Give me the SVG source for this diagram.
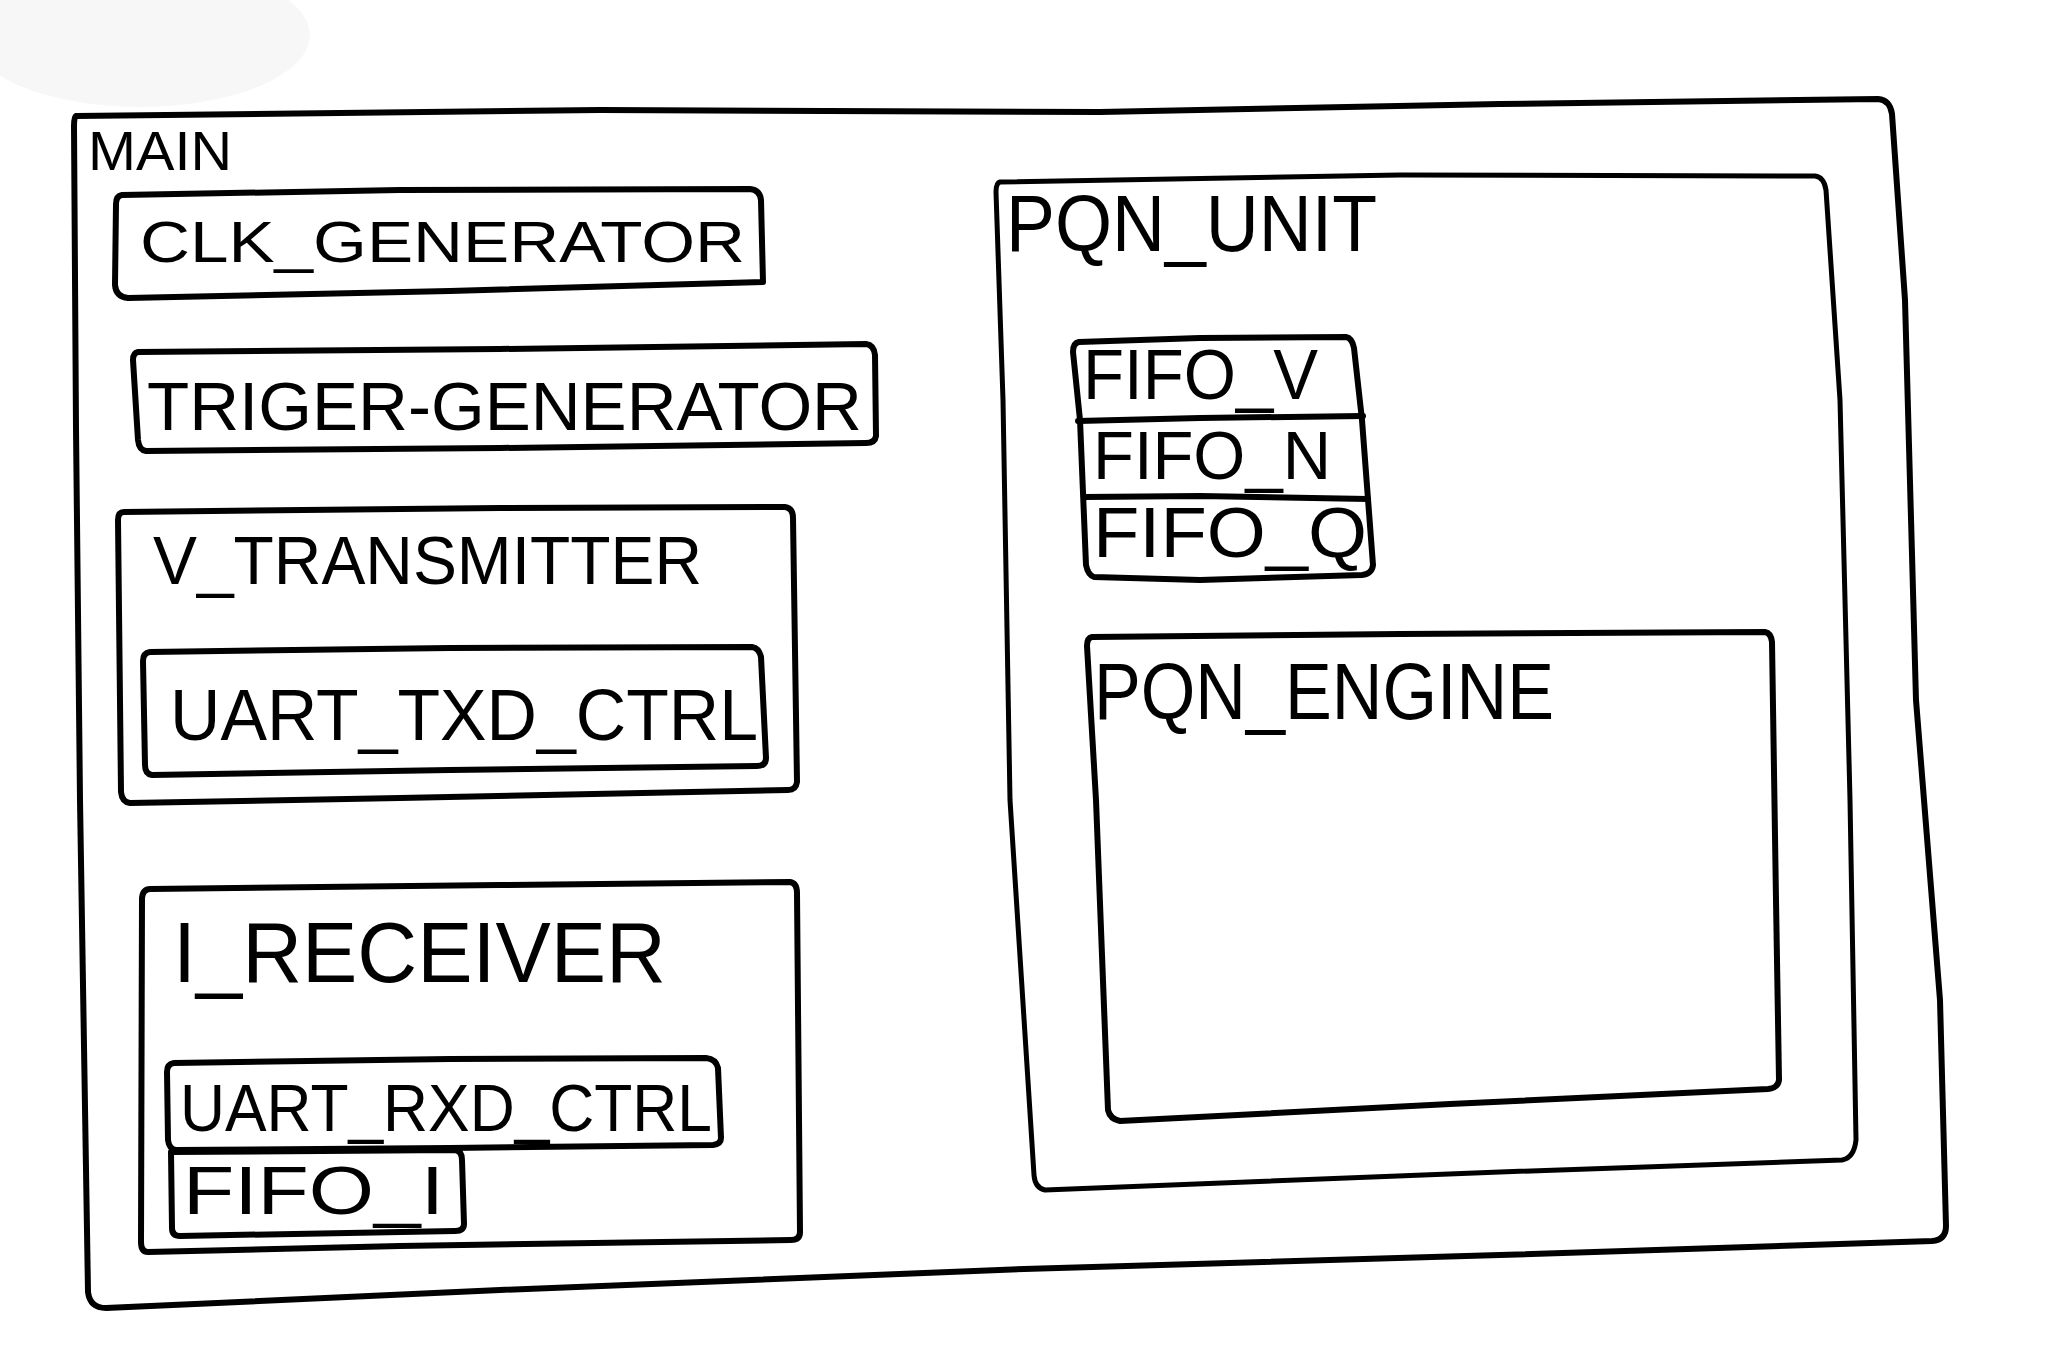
<svg xmlns="http://www.w3.org/2000/svg" width="2048" height="1348" viewBox="0 0 2048 1348">
<style>
.box{fill:none;stroke:#000;stroke-width:6;stroke-linejoin:round;stroke-linecap:round}
.thin{stroke-width:5}
.lbl{font-family:"Liberation Sans","DejaVu Sans",sans-serif;fill:#000;font-weight:normal}
</style>
<rect x="0" y="0" width="2048" height="1348" fill="#fff"/>
<ellipse cx="140" cy="35" rx="170" ry="72" fill="#f7f7f7"/>
<g id="main">
<path class="box" d="M76,116 L600,110 L1100,112 L1500,104 L1878,99 Q1890,100 1892,114 L1905,300 L1916,700 L1940,1000 L1946,1226 Q1946,1240 1932,1241 L1500,1255 L1024,1269 L500,1290 L106,1308 Q90,1308 88,1292 L80,800 L76,428 L74,126 Q74,117 76,116 Z"/>
<text class="lbl" x="88" y="170" font-size="56" textLength="144" lengthAdjust="spacingAndGlyphs">MAIN</text>
</g>
<g id="clk_generator">
<path class="box" d="M122,195 L400,190 L750,189 Q760,190 761,200 L763,282 L450,291 L128,298 Q116,297 115,285 L116,204 Q116,196 122,195 Z"/>
<text class="lbl" x="140" y="262" font-size="58" textLength="605" lengthAdjust="spacingAndGlyphs">CLK_GENERATOR</text>
</g>
<g id="triger_generator">
<path class="box" d="M138,352 L500,349 L866,344 Q874,345 875,355 L876,436 Q875,443 866,443 L500,448 L146,451 Q139,450 138,440 L133,360 Q133,353 138,352 Z"/>
<text class="lbl" x="147" y="430" font-size="68" textLength="715" lengthAdjust="spacingAndGlyphs">TRIGER-GENERATOR</text>
</g>
<g id="v_transmitter">
<path class="box" d="M124,512 L500,508 L785,507 Q793,508 793,518 L797,782 Q796,790 788,790 L400,798 L130,803 Q122,802 121,792 L118,520 Q118,512 124,512 Z"/>
<text class="lbl" x="153" y="584" font-size="68" textLength="549" lengthAdjust="spacingAndGlyphs">V_TRANSMITTER</text>
<g id="uart_txd_ctrl">
<path class="box" d="M150,652 L450,648 L752,647 Q759,648 761,657 L766,758 Q766,766 757,766 L450,770 L152,775 Q145,774 145,765 L143,661 Q143,653 150,652 Z"/>
<text class="lbl" x="170" y="740" font-size="72" textLength="588" lengthAdjust="spacingAndGlyphs">UART_TXD_CTRL</text>
</g>
</g>
<g id="i_receiver">
<path class="box" d="M150,889 L500,885 L790,882 Q797,883 797,893 L800,1232 Q800,1240 791,1240 L400,1246 L148,1252 Q141,1252 141,1242 L142,898 Q143,889 150,889 Z"/>
<text class="lbl" x="173" y="982" font-size="86" textLength="493" lengthAdjust="spacingAndGlyphs">I_RECEIVER</text>
<g id="uart_rxd_ctrl">
<path class="box" d="M174,1063 L450,1059 L706,1058 Q716,1059 718,1068 L721,1138 Q721,1144 713,1145 L450,1148 L176,1150 Q169,1149 168,1140 L167,1072 Q167,1064 174,1063 Z"/>
<text class="lbl" x="180" y="1131" font-size="66" textLength="532" lengthAdjust="spacingAndGlyphs">UART_RXD_CTRL</text>
</g>
<g id="fifo_i">
<path class="box" d="M171,1152 L455,1150 Q462,1151 462,1160 L464,1224 Q464,1231 455,1231 L180,1236 Q172,1236 172,1228 L171,1152 Z"/>
<text class="lbl" x="183" y="1214" font-size="68" textLength="261" lengthAdjust="spacingAndGlyphs">FIFO_I</text>
</g>
</g>
<g id="pqn_unit">
<path class="box thin" d="M1000,182 L1400,175 L1815,176 Q1824,177 1826,190 L1840,400 L1850,800 L1856,1140 Q1854,1158 1842,1160 L1500,1172 L1045,1190 Q1035,1188 1034,1175 L1010,800 L1003,400 L996,192 Q996,183 1000,182 Z"/>
<text class="lbl" x="1006" y="251" font-size="80" textLength="371" lengthAdjust="spacingAndGlyphs">PQN_UNIT</text>
<g id="fifo_stack">
<path class="box" d="M1079,342 L1200,338 L1346,337 Q1352,338 1354,348 L1362,420 L1373,565 Q1372,574 1362,575 L1200,580 L1094,577 Q1088,575 1086,565 L1080,420 L1073,352 Q1073,343 1079,342 Z"/>
<path class="box" d="M1078,421 L1200,418 L1363,416"/>
<path class="box" d="M1084,497 L1200,496 L1368,499"/>
<text class="lbl" x="1083" y="399" font-size="70" textLength="235" lengthAdjust="spacingAndGlyphs">FIFO_V</text>
<text class="lbl" x="1093" y="479" font-size="68" textLength="238" lengthAdjust="spacingAndGlyphs">FIFO_N</text>
<text class="lbl" x="1093" y="557" font-size="70" textLength="274" lengthAdjust="spacingAndGlyphs">FIFO_Q</text>
</g>
<g id="pqn_engine">
<path class="box" d="M1092,637 L1400,634 L1765,632 Q1771,633 1772,642 L1776,900 L1779,1080 Q1778,1088 1768,1089 L1450,1104 L1120,1121 Q1110,1119 1108,1110 L1096,800 L1087,646 Q1087,638 1092,637 Z"/>
<text class="lbl" x="1094" y="719" font-size="80" textLength="460" lengthAdjust="spacingAndGlyphs">PQN_ENGINE</text>
</g>
</g>
<g id="connectors"/>
</svg>
